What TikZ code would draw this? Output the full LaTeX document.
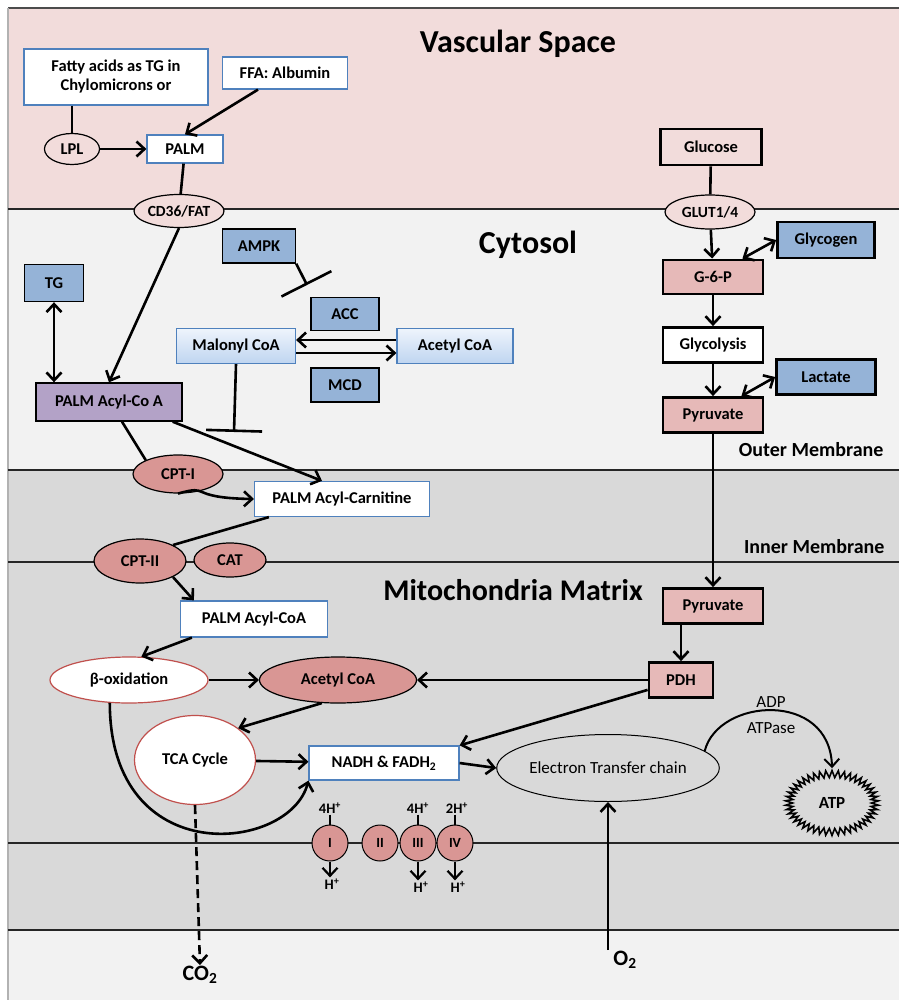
\documentclass[tikz,border=0pt]{standalone}
\usepackage{fontspec}
\setmainfont{Carlito}
\usetikzlibrary{positioning}
\usetikzlibrary{shapes.geometric}
\usetikzlibrary{shapes.symbols}
\usetikzlibrary{arrows.meta}
\definecolor{vascColor}{HTML}{F2DCDB}
\definecolor{cytoColor}{HTML}{F2F2F2}
\definecolor{mitoColor}{HTML}{D9D9D9}
\definecolor{pinkColor}{HTML}{E6B9B8}
\definecolor{blueColor}{HTML}{95B3D7}
\definecolor{enzColor}{HTML}{D99694}
\definecolor{acylColor}{HTML}{B3A2C7}
\definecolor{edgeBlue}{HTML}{4F81BD}
\definecolor{edgeRed}{HTML}{C0504D}
\definecolor{gradTop}{HTML}{EEF4FC}
\definecolor{gradBot}{HTML}{BFD5F0}

\begin{document}
\begin{tikzpicture}[x=1pt, y=-1pt,
		lbl/.style={font=\fontsize{16.5}{19}\selectfont\bfseries, inner sep=0pt, align=center},
		bluebox/.style={lbl, draw=edgeBlue, line width=1.2pt, fill=white},
		gradbox/.style={lbl, draw=edgeBlue, line width=1.2pt, top color=gradTop, bottom color=gradBot},
		regbox/.style={lbl, draw=black, line width=1.4pt, fill=blueColor},
		gluebox/.style={lbl, draw=black, line width=2.8pt},
		porter/.style={lbl, ellipse, draw=black, line width=1.2pt, fill=vascColor},
		enzyme/.style={lbl, ellipse, draw=black, line width=1.2pt, fill=enzColor},
		hollow/.style={lbl, ellipse, draw=edgeRed, line width=1.2pt, fill=white},
		cplx/.style={circle, draw=black, line width=1pt, fill=enzColor, minimum size=36pt, inner sep=0pt, font=\fontsize{14}{16}\selectfont\bfseries},
		proton/.style={font=\fontsize{14.5}{16}\selectfont\bfseries, inner sep=1pt},
		plainlbl/.style={font=\fontsize{17}{19}\selectfont, inner sep=1pt},
		title/.style={font=\fontsize{31}{34}\selectfont\bfseries},
		memlbl/.style={font=\fontsize{20}{22}\selectfont\bfseries, anchor=east},
		membrane/.style={draw=black!85},
		link/.style={line width=2.6pt},
		arr/.style={line width=2.6pt, -{Straight Barb[length=8pt,width=15pt]}},
		dblarr/.style={line width=2.6pt, {Straight Barb[length=8pt,width=15pt]}-{Straight Barb[length=8pt,width=15pt]}},
		block/.style={line width=2.6pt, -{Bar[width=56pt]}}
		]
		\useasboundingbox (0,0) rectangle (899,1000);

		% Compartments
		\fill[white] (0,0) rectangle (899,1000);
		\fill[vascColor] (8,8) rectangle (899,209);
		\fill[cytoColor] (8,209) rectangle (899,470);
		\fill[mitoColor] (8,470) rectangle (899,930);
		\fill[cytoColor] (8,930) rectangle (899,1000);
		\draw[black!70, line width=2pt] (8,8) -- (899,8);
		\draw[black!30, line width=1.2pt] (8,8) -- (8,1000);
		\draw[membrane, line width=2pt] (8,209) -- (899,209);
		\draw[membrane, line width=1.5pt] (8,470) -- (899,470);
		\draw[membrane, line width=2.6pt] (8,562) -- (899,562);
		\draw[membrane, line width=2.2pt] (8,843) -- (899,843);
		\draw[membrane, line width=1.5pt] (8,930) -- (899,930);

		\node[title, font=\fontsize{32}{35}\selectfont\bfseries] at (518,44) {Vascular Space};
		\node[title, font=\fontsize{32}{35}\selectfont\bfseries] at (528,245) {Cytosol};
		\node[title, font=\fontsize{30}{33}\selectfont\bfseries] at (513,590) {Mitochondria Matrix};
		\node[memlbl] at (887,450) {Outer Membrane};
		\node[memlbl] at (888,547) {Inner Membrane};

		% Fatty acid uptake
		\node[bluebox, minimum width=184pt, minimum height=56pt] (fatty) at (116,77) {Fatty acids as TG in\\Chylomicrons or};
		\node[bluebox, minimum width=125pt, minimum height=32pt] (ffa) at (285,73) {FFA: Albumin};
		\node[porter, minimum width=55pt, minimum height=31pt] (lpl) at (72,149) {LPL};
		\node[bluebox, minimum width=76pt, minimum height=28pt] (palm) at (185,149) {PALM};
		\node[porter, minimum width=90pt, minimum height=33pt, font=\fontsize{15.5}{17}\selectfont\bfseries] (cd36) at (179,211) {CD36/FAT};

		\draw[link] (fatty.south -| lpl) -- (lpl.north);
		\draw[arr] (lpl) -- (palm);
		\draw[arr] ([xshift=-27pt]ffa.south) -- (palm.north);
		\draw[link] (palm) -- (cd36);

		% Glucose uptake
		\node[gluebox, fill=vascColor, minimum width=101pt, minimum height=36pt] (glucose) at (711,147) {Glucose};
		\node[porter, minimum width=90pt, minimum height=34pt, font=\fontsize{15.5}{17}\selectfont\bfseries] (glut) at (710,212) {GLUT1/4};
		\node[gluebox, fill=blueColor, minimum width=97pt, minimum height=36pt] (glycogen) at (826,240) {Glycogen};
		\node[gluebox, fill=pinkColor, minimum width=100pt, minimum height=34pt] (g6p) at (713,277) {G-6-P};
		\node[gluebox, fill=white, minimum width=100pt, minimum height=35pt] (glycolysis) at (713,345) {Glycolysis};
		\node[gluebox, fill=blueColor, minimum width=99pt, minimum height=35pt] (lactate) at (826,377) {Lactate};
		\node[gluebox, fill=pinkColor, minimum width=100pt, minimum height=35pt] (pyrCyto) at (713,415) {Pyruvate};

		\draw[link] (glucose) -- (glut);
		\draw[arr] (glut) -- (g6p);
		\draw[dblarr] ([xshift=-22pt]g6p.north east) -- (glycogen.west);
		\draw[arr] (g6p) -- (glycolysis);
		\draw[arr] (glycolysis) -- (pyrCyto);
		\draw[dblarr] ([xshift=-23pt]pyrCyto.north east) -- (lactate.west);

		% Cytosolic fatty acid handling
		\node[regbox, minimum width=73pt, minimum height=34pt] (ampk) at (259,246) {AMPK};
		\node[regbox, minimum width=59pt, minimum height=37pt] (tg) at (54,283) {TG};
		\node[regbox, minimum width=68pt, minimum height=33pt] (acc) at (345,314) {ACC};
		\node[gradbox, minimum width=119pt, minimum height=35pt] (malonyl) at (236,346) {Malonyl CoA};
		\node[gradbox, minimum width=116pt, minimum height=35pt] (acetylCyto) at (455,346) {Acetyl CoA};
		\node[regbox, minimum width=68pt, minimum height=34pt] (mcd) at (345,385) {MCD};
		\node[lbl, draw=black, line width=1.4pt, fill=acylColor, minimum width=146pt, minimum height=38pt] (acylCoA) at (109,402) {PALM Acyl-Co A};
		\coordinate (ampkBar) at (307,285);
		\coordinate (malonylBar) at (234,432);

		\draw[arr] (cd36.south) -- (acylCoA.north);
		\draw[dblarr] (tg.south) -- (tg.south |- acylCoA.north);
		\draw[block] (ampk.south east) -- (ampkBar);
		\draw[arr] ([yshift=6pt]acetylCyto.west) -- ([yshift=6pt]malonyl.east);
		\draw[arr] ([yshift=-7pt]malonyl.east) -- ([yshift=-7pt]acetylCyto.west);
		\draw[block] (malonyl.south) -- (malonylBar);

		% Carnitine shuttle
		\node[enzyme, minimum width=90pt, minimum height=38pt] (cpt1) at (178,474) {CPT-I};
		\node[bluebox, minimum width=175pt, minimum height=35pt] (carnitine) at (342,499) {PALM Acyl-Carnitine};
		\node[enzyme, minimum width=92pt, minimum height=44pt] (cpt2) at (140,561) {CPT-II};
		\node[enzyme, minimum width=72pt, minimum height=34pt] (cat) at (230,560) {CAT};
		\node[bluebox, minimum width=147pt, minimum height=36pt] (acylMat) at (254,619) {PALM Acyl-CoA};

		\draw[link] ([xshift=13pt]acylCoA.south) -- (cpt1.north west);
		\draw[arr] ([xshift=-10pt]acylCoA.south east) -- ([xshift=-20pt]carnitine.north);
		\draw[arr] (cpt1.south) .. controls (212,484) and (186,498) .. (carnitine.west);
		\draw[link] ([xshift=15pt]carnitine.south west) -- (cpt2.north east);
		\draw[arr] (cpt2.south east) -- ([xshift=14pt]acylMat.north west);

		% Matrix
		\node[gluebox, fill=pinkColor, minimum width=100pt, minimum height=35pt] (pyrMat) at (713,606) {Pyruvate};
		\node[gluebox, fill=pinkColor, minimum width=64pt, minimum height=35pt] (pdh) at (681,680) {PDH};
		\node[hollow, minimum width=158pt, minimum height=46pt] (beta) at (129,680) {β-oxidation};
		\node[enzyme, minimum width=157pt, minimum height=46pt] (acetylMat) at (338,680) {Acetyl CoA};
		\node[hollow, minimum width=121pt, minimum height=89pt] (tca) at (195,760) {TCA Cycle};
		\node[bluebox, minimum width=150pt, minimum height=34pt] (nadh) at (384,763) {NADH \& FADH\textsubscript{2}};
		\node[ellipse, draw=black, line width=1pt, minimum width=209pt, minimum height=67pt, inner sep=0pt, font=\fontsize{17}{19}\selectfont] (etc) at (608,768) {Electron Transfer chain};
		\node[starburst, random starburst=0, draw=black, line width=1.6pt, starburst points=46, starburst point height=7pt, minimum width=93pt, minimum height=65pt, inner sep=0pt, font=\fontsize{17}{19}\selectfont\bfseries] (atp) at (832,803) {ATP};
		\node[plainlbl] (adp) at (771,702) {ADP};
		\node[plainlbl] (atpase) at (771,728) {ATPase};
		\node[plainlbl, font=\fontsize{22}{24}\selectfont\bfseries] (co2) at (200,975) {CO\textsubscript{2}};
		\node[plainlbl, font=\fontsize{22}{24}\selectfont\bfseries] (o2) at (625,960) {O\textsubscript{2}};

		\draw[arr] (pyrCyto) -- (pyrCyto |- pyrMat.north);
		\draw[arr] (pyrMat.south -| pdh.north) -- (pdh.north);
		\draw[arr] (pdh.west) -- (acetylMat.east);
		\draw[arr] ([yshift=9pt]pdh.south west) -- (nadh.north east);
		\draw[arr] ([xshift=12pt]acylMat.south west) -- (beta.62);
		\draw[arr] (beta) -- (acetylMat);
		\draw[arr] (acetylMat.235) -- (tca.north east);
		\draw[arr] (tca) -- (nadh);
		\draw[arr] (beta.230) .. controls (110,872) and (290,852) .. (nadh.south west);
		\draw[arr] (nadh.east) -- (etc.west);
		\draw[arr, dashed, dash pattern=on 9pt off 5pt] (tca.south) -- (co2.north);
		\draw[arr] (o2.north -| etc.south) -- (etc.south);
		\draw[arr, line width=2pt] (etc.10) .. controls (718,698) and (830,690) .. (atp.north);

		% Respiratory chain complexes
		\foreach \cx/\cname/\cnum in {330/cI/I, 380/cII/II, 418/cIII/III, 455/cIV/IV}
			\node[cplx] (\cname) at (\cx,843) {\cnum};
		\node[proton] (inI) at (330,808) {4H\textsuperscript{+}};
		\node[proton] (inIII) at (418,808) {4H\textsuperscript{+}};
		\node[proton] (inIV) at (457,808) {2H\textsuperscript{+}};
		\node[proton] (outI) at (332,884) {H\textsuperscript{+}};
		\node[proton] (outIII) at (421,887) {H\textsuperscript{+}};
		\node[proton] (outIV) at (458,887) {H\textsuperscript{+}};
		\foreach \c/\i/\o in {cI/inI/outI, cIII/inIII/outIII, cIV/inIV/outIV} {
			\draw[link, line width=2.2pt] (\i.south -| \c.north) -- (\c.north);
			\draw[arr, line width=2.2pt] (\c.south) -- (\c.south |- \o.north);
		}
	\end{tikzpicture}
\end{document}
